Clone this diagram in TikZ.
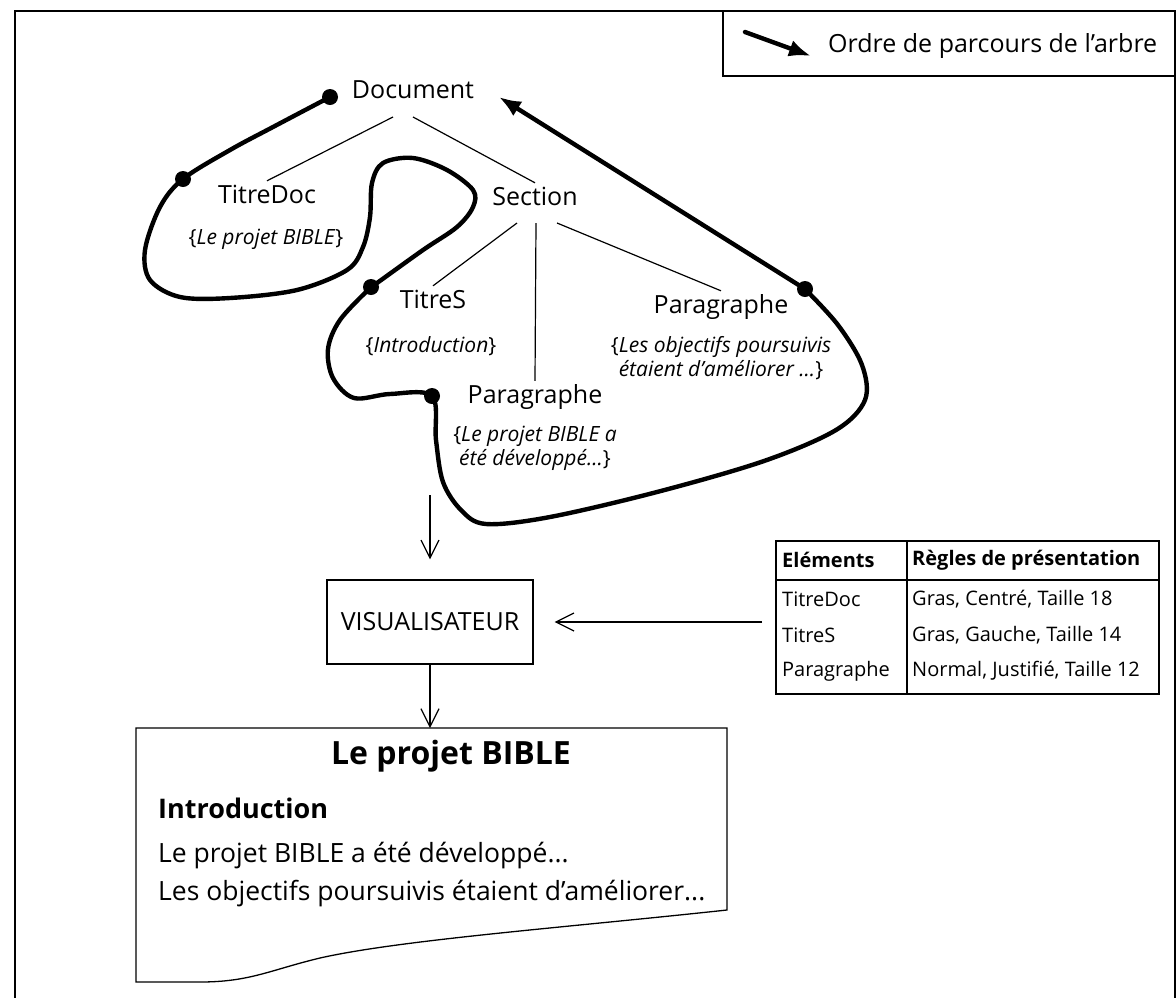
\documentclass[tikz,border=0pt]{standalone}
\usepackage{fontspec}
\setmainfont{Open Sans}
\usetikzlibrary{arrows.meta,calc}

\begin{document}
\begin{tikzpicture}[x=1pt,y=-1pt,
  label/.style={font=\fontsize{25}{30}\selectfont, inner sep=3pt,
    text height=19pt, text depth=6pt, anchor=base},
  note/.style={font=\fontsize{21}{24}\selectfont\itshape, align=center,
    inner sep=0pt},
  branch/.style={line width=1.2pt},
  walk/.style={line width=4.4pt, line cap=round, line join=round},
  walktip/.style={-{Latex[length=22pt,width=17pt]}},
  stop/.style={circle, fill, inner sep=0pt, minimum size=16pt},
  flow/.style={line width=1.2pt, -{Straight Barb[length=18pt,width=18pt]}},
  frame/.style={line width=1.8pt},
  rule/.style={line width=1.3pt},
  cell/.style={font=\fontsize{20}{24}\selectfont, anchor=west, inner sep=0pt},
  head/.style={cell, font=\fontsize{20}{24}\selectfont\bfseries},
  page/.style={font=\fontsize{26.5}{30}\selectfont, anchor=base west, inner sep=0pt}]

\useasboundingbox (0,0) rectangle (1176,997);

% outer frame and legend box
\draw[frame] (15,1010) -- (15,11) -- (1175,11) -- (1175,1010);
\draw[rule] (723,11) -- (723,76) -- (1175,76);
\coordinate (lgA) at (745,32);
\coordinate (lgB) at (811,56);
\draw[walk, walktip] (lgA) -- (lgB);
\node[font=\fontsize{25}{30}\selectfont, anchor=west, inner sep=0pt] (lgText) at (828,46) {Ordre de parcours de l’arbre};

% tree
\node[label] (doc)  at (413,98)  {Document};
\node[label] (tdoc) at (267,203) {TitreDoc};
\node[label] (sec)  at (535,205) {Section};
\node[label] (tsec) at (433,308) {TitreS};
\node[label] (pmid) at (535,403) {Paragraphe};
\node[label] (prt)  at (721,313) {Paragraphe};

\node[note] (ntdoc) at (266,239) {\textup{\{}Le projet BIBLE\textup{\}}};
\node[note] (ntsec) at (431,346) {\textup{\{}Introduction\textup{\}}};
\node[note] (npmid) at (535,448) {\textup{\{}Le projet BIBLE a\\ été développé...\textup{\}}};
\node[note] (nprt)  at (721,358) {\textup{\{}Les objectifs poursuivis\\étaient d’améliorer ...\textup{\}}};

\draw[branch] ([shift={(-20,19)}]doc.base) -- (tdoc.north);
\draw[branch] ([shift={(0,19)}]doc.base) -- (sec.north);
\draw[branch] ([shift={(-18,18)}]sec.base) -- (tsec.north);
\draw[branch] ([shift={(1,18)}]sec.base) -- (pmid.north);
\draw[branch] ([shift={(22,18)}]sec.base) -- (prt.north);

% traversal of the tree
\draw[walk] plot[smooth, tension=0.55] coordinates {
  (330,97) (273,127) (230,150) (183,179) (160,207) (145,250) (150,280)
  (180,297) (230,298) (297,290) (347,270) (363,247) (370,217) (372,183)
  (383,163) (413,158) (447,170) (473,190) (473,207) (457,227) (423,250)
  (377,283) (371,287) (340,320) (328,349) (333,378) (354,398) (390,394)
  (432,396) (436,440) (443,482) (461,510) (486,524) (550,517) (657,492)
  (764,461) (836,430) (865,400) (862,365) (838,325) (805,289)};
\node[stop] (d1) at (330,97)  {};
\node[stop] (d2) at (183,179) {};
\node[stop] (d3) at (371,287) {};
\node[stop] (d4) at (432,396) {};
\node[stop] (d5) at (805,289) {};
\coordinate (back) at (499,97);
\draw[walk, walktip] (d5.center) -- (back);

% viewer
\node[draw, rule, minimum width=206pt, minimum height=84pt, inner sep=0pt,
  font=\fontsize{25}{30}\selectfont] (vis) at (430,622) {VISUALISATEUR};
\coordinate (treeOut) at (430,495);
\draw[flow] (treeOut) -- ([yshift=20pt]vis.north);

% presentation rules
\draw[rule] (776,541) rectangle (1159,694);
\draw[rule] (776,580) -- (1159,580);
\draw[rule] (907,541) -- (907,694);
\node[head] (h1) at (782,560) {Eléments};
\node[head] (h2) at (912,560) {Règles de présentation};
\node[cell] (r1a) at (782,599) {TitreDoc};
\node[cell] (r1b) at (912,599) {Gras, Centré, Taille 18};
\node[cell] (r2a) at (782,635) {TitreS};
\node[cell] (r2b) at (912,635) {Gras, Gauche, Taille 14};
\node[cell] (r3a) at (782,671) {Paragraphe};
\node[cell] (r3b) at (912,671) {Normal, Justifié, Taille 12};
\coordinate (rulesOut) at (762,622);
\draw[flow] (rulesOut) -- ([xshift=21pt]vis.east);

% rendered page
\coordinate (docTop) at (430,728);
\draw[rule] (136,728) -- (727,728) -- (727,910)
  .. controls (560,928) and (400,940) .. (320,958)
  .. controls (270,970) and (250,982) .. (200,982) -- (136,982) -- cycle;
\draw[flow] (vis.south) -- (docTop);
\node[font=\fontsize{32}{38}\selectfont\bfseries, anchor=base, inner sep=0pt] (ttl) at (451,764) {Le projet BIBLE};
\node[page, font=\fontsize{27}{32}\selectfont\bfseries] (intro) at (158,818) {Introduction};
\node[page] (l1) at (158,862) {Le projet BIBLE a été développé...};
\node[page] (l2) at (158,900) {Les objectifs poursuivis étaient d’améliorer...};
\end{tikzpicture}
\end{document}
